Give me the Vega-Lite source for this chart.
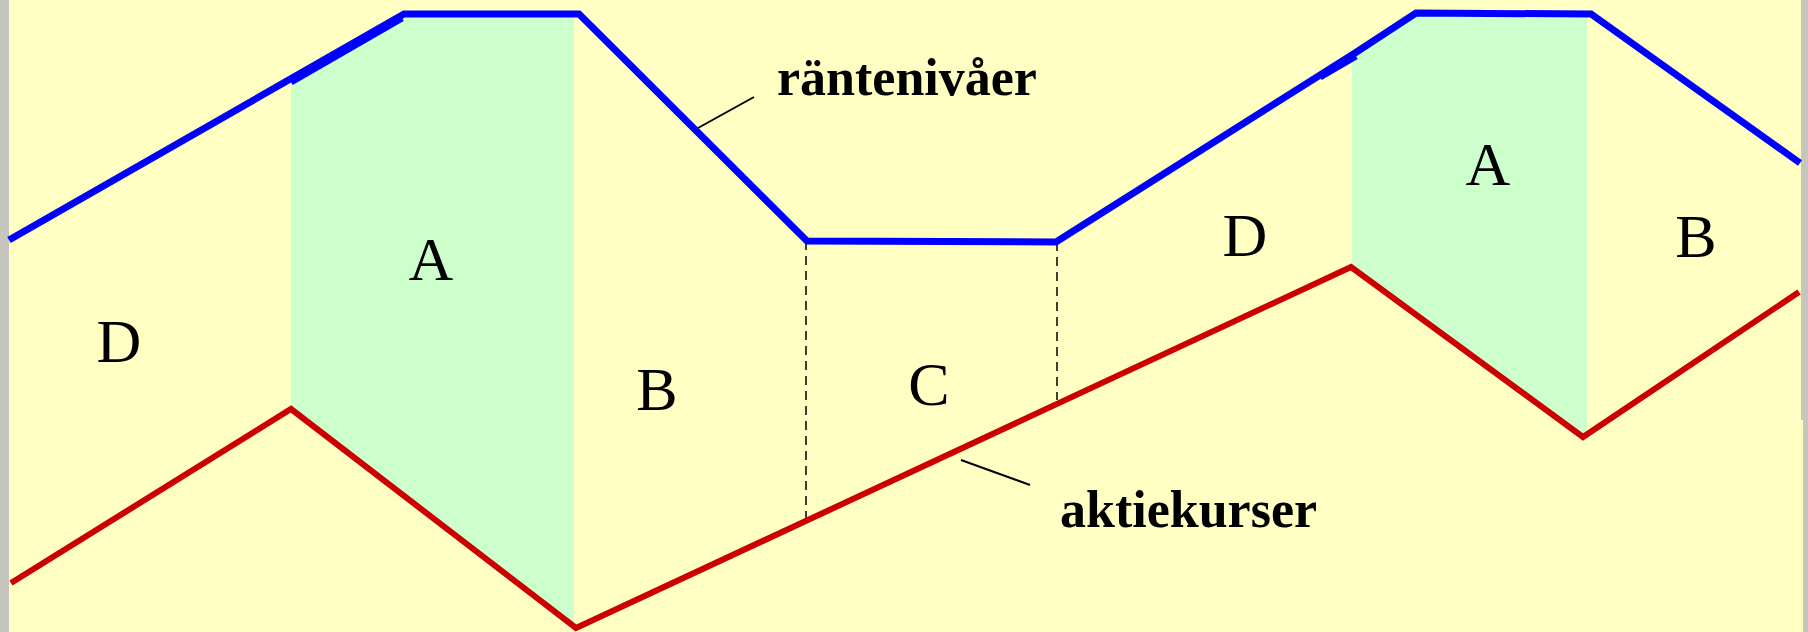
{
  "$schema": "https://vega.github.io/schema/vega-lite/v6.json",
  "width": 1808,
  "height": 632,
  "padding": 0,
  "autosize": "none",
  "background": "#FFFFC4",
  "config": {"view": {"stroke": null}},
  "datasets": {
    "border": [
      {"x": 0, "x2": 9, "y": 0, "y2": 632},
      {"x": 1801, "x2": 1808, "y": 0, "y2": 420},
      {"x": 1803, "x2": 1808, "y": 420, "y2": 632}
    ],
    "zones": [
      {"zone": "A1", "x": 291, "low": 409, "high": 79},
      {"zone": "A1", "x": 404, "low": 496, "high": 14},
      {"zone": "A1", "x": 574, "low": 626, "high": 14},
      {"zone": "A2", "x": 1352, "low": 267, "high": 55},
      {"zone": "A2", "x": 1415, "low": 314, "high": 13},
      {"zone": "A2", "x": 1587, "low": 436, "high": 13}
    ],
    "rate": [
      {"i": 1, "x": 9, "y": 240},
      {"i": 2, "x": 404, "y": 14},
      {"i": 3, "x": 579, "y": 14},
      {"i": 4, "x": 807, "y": 241},
      {"i": 5, "x": 1056, "y": 242},
      {"i": 6, "x": 1355, "y": 53},
      {"i": 7, "x": 1416, "y": 13},
      {"i": 8, "x": 1591, "y": 14},
      {"i": 9, "x": 1800, "y": 163}
    ],
    "rateOverlap": [
      {"seg": "a", "i": 1, "x": 291, "y": 82},
      {"seg": "a", "i": 2, "x": 402, "y": 18},
      {"seg": "b", "i": 1, "x": 1320, "y": 77},
      {"seg": "b", "i": 2, "x": 1356, "y": 56}
    ],
    "stock": [
      {"i": 1, "x": 11, "y": 583},
      {"i": 2, "x": 291, "y": 409},
      {"i": 3, "x": 576, "y": 628},
      {"i": 4, "x": 1351, "y": 267},
      {"i": 5, "x": 1583, "y": 437},
      {"i": 6, "x": 1799, "y": 292}
    ],
    "dashes": [
      {"x": 806, "y": 241, "y2": 520},
      {"x": 1057, "y": 242, "y2": 400}
    ],
    "leaders": [
      {"x": 698, "y": 128, "x2": 754, "y2": 97},
      {"x": 961, "y": 460, "x2": 1030, "y2": 485}
    ],
    "phases": [
      {"t": "D", "x": 119, "y": 362},
      {"t": "A", "x": 431, "y": 280},
      {"t": "B", "x": 657, "y": 410},
      {"t": "C", "x": 929, "y": 405},
      {"t": "D", "x": 1245, "y": 256},
      {"t": "A", "x": 1488, "y": 185},
      {"t": "B", "x": 1696, "y": 257}
    ],
    "titles": [
      {"t": "räntenivåer", "x": 777, "y": 95},
      {"t": "aktiekurser", "x": 1060, "y": 527}
    ]
  },
  "layer": [
    {
      "data": {"name": "border"},
      "mark": {"type": "rect", "color": "#C6C6BE"},
      "encoding": {
        "x": {"field": "x", "type": "quantitative", "scale": {"domain": [0, 1808], "nice": false, "zero": false}, "axis": null},
        "x2": {"field": "x2"},
        "y": {"field": "y", "type": "quantitative", "scale": {"domain": [0, 632], "nice": false, "zero": false, "reverse": true}, "axis": null},
        "y2": {"field": "y2"}
      }
    },
    {
      "data": {"name": "zones"},
      "mark": {"type": "area", "color": "#CCFFCC", "opacity": 1},
      "encoding": {
        "x": {"field": "x", "type": "quantitative"},
        "y": {"field": "low", "type": "quantitative"},
        "y2": {"field": "high"},
        "detail": {"field": "zone"}
      }
    },
    {
      "data": {"name": "dashes"},
      "mark": {"type": "rule", "color": "#000000", "strokeWidth": 1.5, "strokeDash": [9, 6]},
      "encoding": {
        "x": {"field": "x", "type": "quantitative"},
        "y": {"field": "y", "type": "quantitative"},
        "y2": {"field": "y2"}
      }
    },
    {
      "data": {"name": "rate"},
      "mark": {"type": "line", "color": "#0000FF", "strokeWidth": 7, "strokeJoin": "miter", "strokeCap": "butt"},
      "encoding": {
        "x": {"field": "x", "type": "quantitative"},
        "y": {"field": "y", "type": "quantitative"},
        "order": {"field": "i"}
      }
    },
    {
      "data": {"name": "rateOverlap"},
      "mark": {"type": "line", "color": "#0000FF", "strokeWidth": 7, "strokeCap": "butt"},
      "encoding": {
        "x": {"field": "x", "type": "quantitative"},
        "y": {"field": "y", "type": "quantitative"},
        "detail": {"field": "seg"},
        "order": {"field": "i"}
      }
    },
    {
      "data": {"name": "stock"},
      "mark": {"type": "line", "color": "#CC0000", "strokeWidth": 6, "strokeJoin": "miter", "strokeCap": "butt"},
      "encoding": {
        "x": {"field": "x", "type": "quantitative"},
        "y": {"field": "y", "type": "quantitative"},
        "order": {"field": "i"}
      }
    },
    {
      "data": {"name": "leaders"},
      "mark": {"type": "rule", "color": "#000000", "strokeWidth": 2},
      "encoding": {
        "x": {"field": "x", "type": "quantitative"},
        "y": {"field": "y", "type": "quantitative"},
        "x2": {"field": "x2"},
        "y2": {"field": "y2"}
      }
    },
    {
      "data": {"name": "phases"},
      "mark": {"type": "text", "font": "Liberation Serif", "fontSize": 62, "color": "#000000", "align": "center", "baseline": "alphabetic"},
      "encoding": {
        "x": {"field": "x", "type": "quantitative"},
        "y": {"field": "y", "type": "quantitative"},
        "text": {"field": "t"}
      }
    },
    {
      "data": {"name": "titles"},
      "mark": {"type": "text", "font": "Liberation Serif", "fontSize": 52, "fontWeight": "bold", "color": "#000000", "align": "left", "baseline": "alphabetic"},
      "encoding": {
        "x": {"field": "x", "type": "quantitative"},
        "y": {"field": "y", "type": "quantitative"},
        "text": {"field": "t"}
      }
    }
  ]
}
